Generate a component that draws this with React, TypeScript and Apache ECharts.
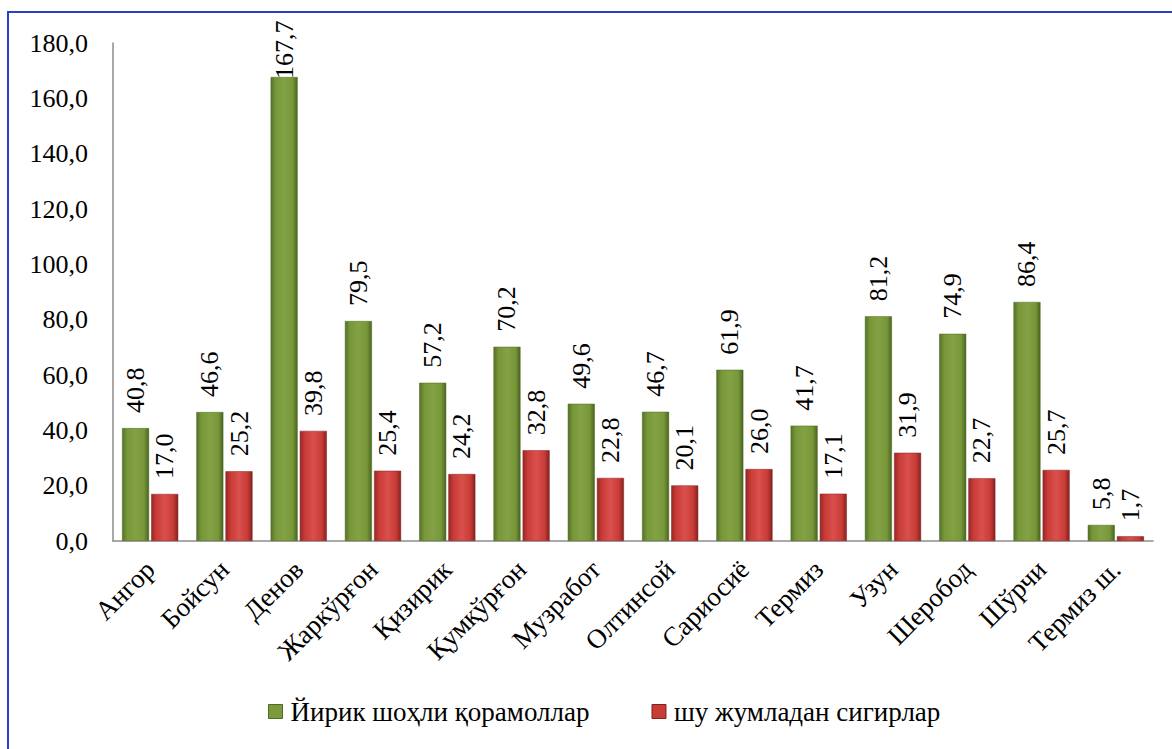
import React, { useEffect, useRef } from "react";
import * as echarts from "echarts";

const categories = [
  "Ангор", "Бойсун", "Денов", "Жаркўрғон", "Қизирик", "Қумқўрғон", "Музработ",
  "Олтинсой", "Сариосиё", "Термиз", "Узун", "Шеробод", "Шўрчи", "Термиз ш.",
];
const cattle = [40.8, 46.6, 167.7, 79.5, 57.2, 70.2, 49.6, 46.7, 61.9, 41.7, 81.2, 74.9, 86.4, 5.8];
const cows = [17.0, 25.2, 39.8, 25.4, 24.2, 32.8, 22.8, 20.1, 26.0, 17.1, 31.9, 22.7, 25.7, 1.7];
const seriesNames = ["Йирик шоҳли қорамоллар", "шу жумладан сигирлар"];

const FONT = "Liberation Serif";
const fmt = (v: number) => v.toFixed(1).replace(".", ",");

const grad = (edge: string, mid: string, center: string, edge2: string) =>
  new echarts.graphic.LinearGradient(0, 0, 1, 0, [
    { offset: 0, color: edge },
    { offset: 0.18, color: mid },
    { offset: 0.5, color: center },
    { offset: 0.82, color: mid },
    { offset: 1, color: edge2 },
  ]);

export default function App() {
  const ref = useRef<HTMLDivElement>(null);
  useEffect(() => {
    if (!ref.current) return;
    const chart = echarts.init(ref.current, undefined, { renderer: "svg" });
    const label = {
      show: true,
      position: "top" as const,
      rotate: 90,
      align: "left" as const,
      verticalAlign: "middle" as const,
      distance: 15,
      fontFamily: FONT,
      fontSize: 26,
      color: "#000",
      formatter: (p: any) => fmt(p.value),
    };
    const yMax = 180;
    chart.setOption({
      animation: false,
      backgroundColor: "#fff",
      textStyle: { fontFamily: FONT },
      graphic: [
        {
          type: "rect",
          shape: { x: 8, y: 12, width: 1400, height: 1000 },
          style: { fill: "none", stroke: "#2a40c4", lineWidth: 2 },
          silent: true,
        },
      ],
      grid: { left: 113, top: 43, right: 19, bottom: 208, containLabel: false },
      legend: {
        top: 693,
        left: 263,
        icon: "rect",
        itemWidth: 14,
        itemHeight: 14,
        itemGap: 62,
        textStyle: { fontFamily: FONT, fontSize: 27, color: "#000", padding: [0, 0, 0, 3] },
        data: [
          { name: seriesNames[0], itemStyle: { color: "#7a9a3c", borderColor: "#4f6a22", borderWidth: 1 } },
          { name: seriesNames[1], itemStyle: { color: "#c83c38", borderColor: "#852220", borderWidth: 1 } },
        ],
      },
      xAxis: {
        type: "category",
        data: categories,
        axisLine: { lineStyle: { color: "#8c8c8c", width: 1.5 } },
        axisTick: { show: false },
        axisLabel: {
          interval: 0,
          rotate: 45,
          margin: 24,
          fontFamily: FONT,
          fontSize: 27,
          color: "#000",
        },
      },
      yAxis: {
        type: "value",
        min: 0,
        max: yMax,
        interval: 20,
        axisLine: { show: true, lineStyle: { color: "#8c8c8c", width: 1.5 } },
        axisTick: { show: false },
        splitLine: { show: false },
        axisLabel: {
          fontFamily: FONT,
          fontSize: 26,
          color: "#000",
          margin: 25,
          formatter: (v: number) => fmt(v),
        },
      },
      series: [
        {
          name: seriesNames[0],
          type: "bar",
          data: cattle.map((v) => (v > yMax * 0.85 ? { value: v, label: { distance: -2 } } : v)),
          barWidth: 27,
          barGap: "8%",
          itemStyle: {
            color: grad("#55722a", "#779739", "#83a245", "#4a6420"),
            borderColor: "#4f6a22",
            borderWidth: 0.5,
          },
          label,
        },
        {
          name: seriesNames[1],
          type: "bar",
          data: cows,
          barWidth: 27,
          itemStyle: {
            color: grad("#952826", "#c93b37", "#d9504c", "#852220"),
            borderColor: "#852220",
            borderWidth: 0.5,
          },
          label,
        },
      ],
    });
    return () => chart.dispose();
  }, []);
  return (
    <div
      ref={ref}
      style={{ position: "absolute", left: 0, top: 0, width: 1172, height: 749 }}
    />
  );
}
